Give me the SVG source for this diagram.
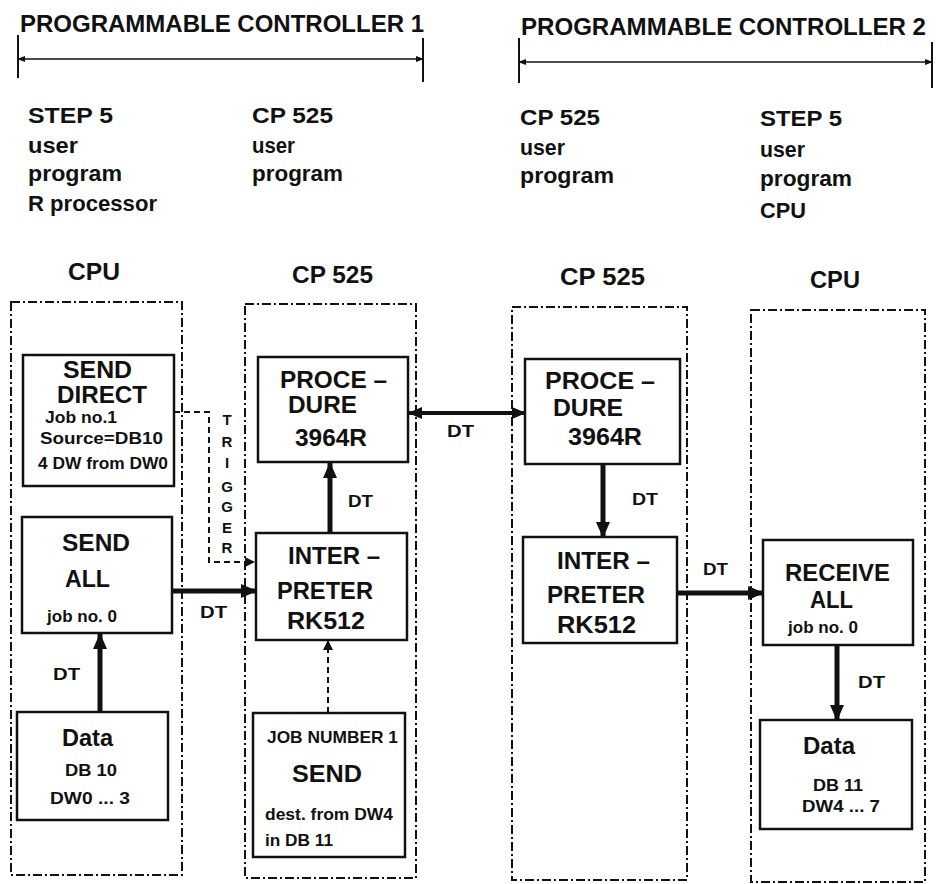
<svg xmlns="http://www.w3.org/2000/svg" width="940" height="884" viewBox="0 0 940 884">
<defs>
<style>
text{font-family:"Liberation Sans",Arial,sans-serif;font-weight:bold;fill:#111;}
.h{font-size:24px;}
.l{font-size:22px;}
.t{font-size:23px;}
.b{font-size:24px;}
.s{font-size:17px;}
.dt{font-size:16px;}
.tr{font-size:15px;text-anchor:middle;}
.grp{fill:none;stroke:#111;stroke-width:2;stroke-dasharray:9 3 2 3;}
.box{fill:#fff;stroke:#111;stroke-width:2.5;}
.thick{fill:none;stroke:#111;stroke-width:5;}
.mid{fill:none;stroke:#111;stroke-width:4;}
.dash{fill:none;stroke:#111;stroke-width:2;stroke-dasharray:6 4;}
.thin{fill:none;stroke:#111;stroke-width:1.5;}
.tick{fill:none;stroke:#111;stroke-width:2;}
</style>
<marker id="ah" markerUnits="userSpaceOnUse" markerWidth="16" markerHeight="14" refX="15" refY="7" orient="auto-start-reverse"><path d="M0,0 L16,7 L0,14 z" fill="#111"/></marker>
<marker id="am" markerUnits="userSpaceOnUse" markerWidth="14" markerHeight="12" refX="13" refY="6" orient="auto-start-reverse"><path d="M0,0 L14,6 L0,12 z" fill="#111"/></marker>
<marker id="as" markerUnits="userSpaceOnUse" markerWidth="10" markerHeight="10" refX="9" refY="5" orient="auto-start-reverse"><path d="M0,0 L10,5 L0,10 z" fill="#111"/></marker>
<marker id="ax" markerUnits="userSpaceOnUse" markerWidth="8" markerHeight="8" refX="7" refY="4" orient="auto-start-reverse"><path d="M0,1 L8,4 L0,7 z" fill="#111"/></marker>
</defs>
<rect width="940" height="884" fill="#fff"/>

<g id="header1">
<text class="h" x="20" y="32" textLength="404" lengthAdjust="spacingAndGlyphs">PROGRAMMABLE CONTROLLER 1</text>
<line class="thin" x1="18" y1="59" x2="423" y2="59" marker-start="url(#ax)" marker-end="url(#ax)"/>
<line class="tick" x1="18" y1="35" x2="18" y2="78"/>
<line class="tick" x1="423" y1="38" x2="423" y2="82"/>
</g>
<g id="header2">
<text class="h" x="521" y="35" textLength="405" lengthAdjust="spacingAndGlyphs">PROGRAMMABLE CONTROLLER 2</text>
<line class="thin" x1="519" y1="62" x2="932" y2="62" marker-start="url(#ax)" marker-end="url(#ax)"/>
<line class="tick" x1="519" y1="38" x2="519" y2="83"/>
<line class="tick" x1="932" y1="42" x2="932" y2="88"/>
</g>

<g id="labels">
<text class="l" x="28" y="123" textLength="85" lengthAdjust="spacingAndGlyphs">STEP 5</text>
<text class="l" x="28" y="153" textLength="50" lengthAdjust="spacingAndGlyphs">user</text>
<text class="l" x="28" y="181" textLength="94" lengthAdjust="spacingAndGlyphs">program</text>
<text class="l" x="28" y="211" textLength="129" lengthAdjust="spacingAndGlyphs">R processor</text>
<text class="l" x="252" y="123" textLength="81" lengthAdjust="spacingAndGlyphs">CP 525</text>
<text class="l" x="252" y="153" textLength="43" lengthAdjust="spacingAndGlyphs">user</text>
<text class="l" x="252" y="181" textLength="91" lengthAdjust="spacingAndGlyphs">program</text>
<text class="l" x="520" y="125" textLength="80" lengthAdjust="spacingAndGlyphs">CP 525</text>
<text class="l" x="520" y="155" textLength="45" lengthAdjust="spacingAndGlyphs">user</text>
<text class="l" x="520" y="183" textLength="94" lengthAdjust="spacingAndGlyphs">program</text>
<text class="l" x="760" y="126" textLength="82" lengthAdjust="spacingAndGlyphs">STEP 5</text>
<text class="l" x="760" y="157" textLength="45" lengthAdjust="spacingAndGlyphs">user</text>
<text class="l" x="760" y="186" textLength="92" lengthAdjust="spacingAndGlyphs">program</text>
<text class="l" x="760" y="218" textLength="46" lengthAdjust="spacingAndGlyphs">CPU</text>
<text class="t" x="68" y="280" textLength="52" lengthAdjust="spacingAndGlyphs">CPU</text>
<text class="t" x="292" y="283" textLength="81" lengthAdjust="spacingAndGlyphs">CP 525</text>
<text class="t" x="560" y="285" textLength="85" lengthAdjust="spacingAndGlyphs">CP 525</text>
<text class="t" x="810" y="288" textLength="50" lengthAdjust="spacingAndGlyphs">CPU</text>
</g>

<g id="cpu1">
<rect class="grp" x="11" y="302" width="171" height="573"/>
</g>
<g id="cp525-1">
<rect class="grp" x="245" y="304" width="171" height="574"/>
</g>
<g id="cp525-2">
<rect class="grp" x="512" y="307" width="175" height="573"/>
</g>
<g id="cpu2">
<rect class="grp" x="751" y="310" width="174" height="572"/>
</g>

<g id="connectors">
<polyline class="dash" points="174,412 209,412 209,562 254,562" marker-end="url(#as)"/>
<line class="mid" x1="409" y1="413" x2="525" y2="413" marker-start="url(#am)" marker-end="url(#am)"/>
<line class="thick" x1="330" y1="533" x2="330" y2="463" marker-end="url(#ah)"/>
<line class="thick" x1="603" y1="465" x2="603" y2="537" marker-end="url(#ah)"/>
<line class="thick" x1="173" y1="591" x2="256" y2="591" marker-end="url(#ah)"/>
<line class="thick" x1="100" y1="712" x2="100" y2="634" marker-end="url(#ah)"/>
<line class="dash" x1="328" y1="713" x2="328" y2="641" marker-end="url(#as)"/>
<line class="thick" x1="677" y1="593" x2="763" y2="593" marker-end="url(#ah)"/>
<line class="thick" x1="837" y1="645" x2="837" y2="720" marker-end="url(#ah)"/>
<text class="dt" x="447" y="437" textLength="27" lengthAdjust="spacingAndGlyphs">DT</text>
<text class="dt" x="348" y="507" textLength="25" lengthAdjust="spacingAndGlyphs">DT</text>
<text class="dt" x="632" y="505" textLength="26" lengthAdjust="spacingAndGlyphs">DT</text>
<text class="dt" x="200" y="618" textLength="27" lengthAdjust="spacingAndGlyphs">DT</text>
<text class="dt" x="53" y="680" textLength="27" lengthAdjust="spacingAndGlyphs">DT</text>
<text class="dt" x="703" y="575" textLength="25" lengthAdjust="spacingAndGlyphs">DT</text>
<text class="dt" x="858" y="688" textLength="27" lengthAdjust="spacingAndGlyphs">DT</text>
<text class="tr" x="227" y="425">T</text>
<text class="tr" x="227" y="447">R</text>
<text class="tr" x="227" y="468">I</text>
<text class="tr" x="227" y="492">G</text>
<text class="tr" x="227" y="512">G</text>
<text class="tr" x="227" y="533">E</text>
<text class="tr" x="227" y="553">R</text>
</g>

<g id="send-direct">
<rect class="box" x="23" y="355" width="151" height="131"/>
<text class="b" x="63" y="378" textLength="69" lengthAdjust="spacingAndGlyphs">SEND</text>
<text class="b" x="57" y="403" textLength="90" lengthAdjust="spacingAndGlyphs">DIRECT</text>
<text class="s" x="45" y="423" textLength="72" lengthAdjust="spacingAndGlyphs">Job no.1</text>
<text class="s" x="40" y="444" textLength="123" lengthAdjust="spacingAndGlyphs">Source=DB10</text>
<text class="s" x="38" y="469" textLength="130" lengthAdjust="spacingAndGlyphs">4 DW from DW0</text>
</g>
<g id="send-all">
<rect class="box" x="22" y="517" width="150" height="116"/>
<text class="b" x="62" y="551" textLength="68" lengthAdjust="spacingAndGlyphs">SEND</text>
<text class="b" x="65" y="587" textLength="45" lengthAdjust="spacingAndGlyphs">ALL</text>
<text class="s" x="47" y="622" textLength="70" lengthAdjust="spacingAndGlyphs">job no. 0</text>
</g>
<g id="data1">
<rect class="box" x="17" y="712" width="151" height="108"/>
<text class="b" x="62" y="746" textLength="51" lengthAdjust="spacingAndGlyphs">Data</text>
<text class="s" x="65" y="776" textLength="52" lengthAdjust="spacingAndGlyphs">DB 10</text>
<text class="s" x="50" y="804" textLength="80" lengthAdjust="spacingAndGlyphs">DW0 ... 3</text>
</g>
<g id="procedure1">
<rect class="box" x="258" y="357" width="150" height="105"/>
<text class="b" x="280" y="388" textLength="107" lengthAdjust="spacingAndGlyphs">PROCE –</text>
<text class="b" x="288" y="413" textLength="69" lengthAdjust="spacingAndGlyphs">DURE</text>
<text class="b" x="295" y="446" textLength="72" lengthAdjust="spacingAndGlyphs">3964R</text>
</g>
<g id="interpreter1">
<rect class="box" x="256" y="533" width="151" height="107"/>
<text class="b" x="288" y="564" textLength="92" lengthAdjust="spacingAndGlyphs">INTER –</text>
<text class="b" x="277" y="599" textLength="96" lengthAdjust="spacingAndGlyphs">PRETER</text>
<text class="b" x="287" y="629" textLength="78" lengthAdjust="spacingAndGlyphs">RK512</text>
</g>
<g id="job-send">
<rect class="box" x="253" y="713" width="152" height="144"/>
<text class="s" x="267" y="743" textLength="131" lengthAdjust="spacingAndGlyphs">JOB NUMBER 1</text>
<text class="b" x="292" y="782" textLength="70" lengthAdjust="spacingAndGlyphs">SEND</text>
<text class="s" x="265" y="820" textLength="128" lengthAdjust="spacingAndGlyphs">dest. from DW4</text>
<text class="s" x="265" y="846" textLength="68" lengthAdjust="spacingAndGlyphs">in DB 11</text>
</g>
<g id="procedure2">
<rect class="box" x="525" y="359" width="155" height="105"/>
<text class="b" x="545" y="389" textLength="110" lengthAdjust="spacingAndGlyphs">PROCE –</text>
<text class="b" x="553" y="416" textLength="70" lengthAdjust="spacingAndGlyphs">DURE</text>
<text class="b" x="568" y="445" textLength="74" lengthAdjust="spacingAndGlyphs">3964R</text>
</g>
<g id="interpreter2">
<rect class="box" x="523" y="537" width="154" height="106"/>
<text class="b" x="557" y="569" textLength="93" lengthAdjust="spacingAndGlyphs">INTER –</text>
<text class="b" x="547" y="603" textLength="98" lengthAdjust="spacingAndGlyphs">PRETER</text>
<text class="b" x="557" y="633" textLength="79" lengthAdjust="spacingAndGlyphs">RK512</text>
</g>
<g id="receive-all">
<rect class="box" x="763" y="540" width="150" height="105"/>
<text class="b" x="785" y="581" textLength="105" lengthAdjust="spacingAndGlyphs">RECEIVE</text>
<text class="b" x="810" y="608" textLength="43" lengthAdjust="spacingAndGlyphs">ALL</text>
<text class="s" x="788" y="633" textLength="70" lengthAdjust="spacingAndGlyphs">job no. 0</text>
</g>
<g id="data2">
<rect class="box" x="760" y="720" width="152" height="109"/>
<text class="b" x="803" y="754" textLength="52" lengthAdjust="spacingAndGlyphs">Data</text>
<text class="s" x="813" y="791" textLength="50" lengthAdjust="spacingAndGlyphs">DB 11</text>
<text class="s" x="802" y="812" textLength="78" lengthAdjust="spacingAndGlyphs">DW4 ... 7</text>
</g>
</svg>
